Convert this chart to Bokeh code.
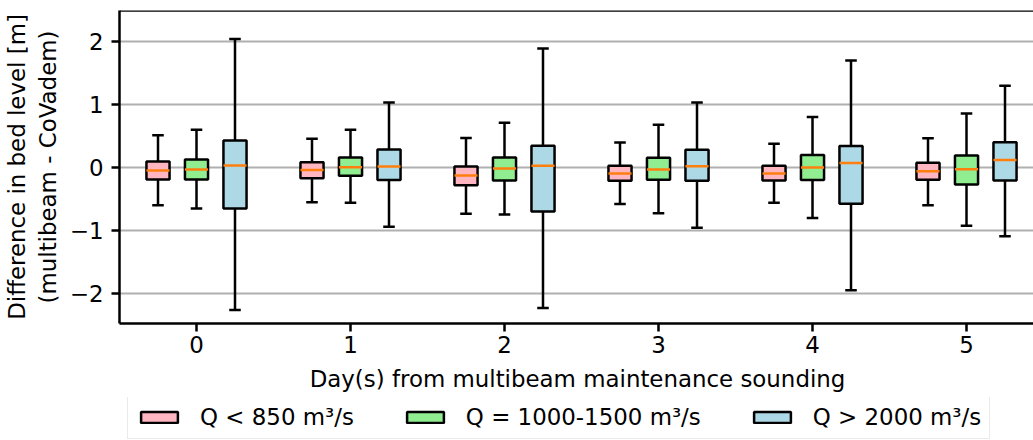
from bokeh.plotting import figure
from bokeh.layouts import column
from bokeh.models import Legend, LegendItem, Span, FixedTicker, ColumnDataSource
from bokeh.embed import file_html
from bokeh.resources import INLINE

# ---------------- data ----------------
days = [0, 1, 2, 3, 4, 5]
tick_labels = ["0", "1", "2", "3", "4", "5"]
group_labels = ["Q < 850 m³/s", "Q = 1000-1500 m³/s", "Q > 2000 m³/s"]
group_colors = ["#ffb6c1", "#90ee90", "#add8e6"]
group_offsets = [-0.25, 0.0, 0.25]

low_whislo = [-0.60, -0.55, -0.735, -0.58, -0.56, -0.60]
low_q1 = [-0.19, -0.17, -0.28, -0.21, -0.206, -0.195]
low_med = [-0.048, -0.04, -0.127, -0.095, -0.095, -0.058]
low_q3 = [0.095, 0.085, 0.016, 0.026, 0.026, 0.074]
low_whishi = [0.51, 0.455, 0.47, 0.397, 0.376, 0.466]

mid_whislo = [-0.65, -0.56, -0.746, -0.725, -0.80, -0.926]
mid_q1 = [-0.19, -0.13, -0.206, -0.196, -0.20, -0.27]
mid_med = [-0.03, 0.005, -0.016, -0.032, 0.0, -0.026]
mid_q3 = [0.127, 0.16, 0.16, 0.153, 0.20, 0.19]
mid_whishi = [0.60, 0.60, 0.71, 0.68, 0.80, 0.857]

high_whislo = [-2.26, -0.94, -2.23, -0.957, -1.95, -1.09]
high_q1 = [-0.65, -0.20, -0.70, -0.21, -0.577, -0.206]
high_med = [0.03, 0.016, 0.026, 0.021, 0.07, 0.12]
high_q3 = [0.43, 0.285, 0.344, 0.28, 0.34, 0.40]
high_whishi = [2.04, 1.03, 1.89, 1.03, 1.70, 1.297]

groups = [
    (low_whislo, low_q1, low_med, low_q3, low_whishi),
    (mid_whislo, mid_q1, mid_med, mid_q3, mid_whishi),
    (high_whislo, high_q1, high_med, high_q3, high_whishi),
]

# ---------------- styling ----------------
FONT = "DejaVu Sans"
FS = "22.9px"
LW = 2.5
BOX_W = 0.15
CAP_W = 0.075

p = figure(
    width=1033,
    frame_width=916, frame_height=313,
    min_border_left=117, min_border_right=0, min_border_top=10, min_border_bottom=74,
    x_range=(-0.5, 5.448), y_range=(-2.476, 2.492),
    output_backend="svg", toolbar_location=None,
)
p.outline_line_color = None
p.background_fill_color = "white"
p.border_fill_color = "white"

sources = []
for (wlo, q1, med, q3, whi), color, off in zip(groups, group_colors, group_offsets):
    xs = [d + off for d in days]
    src = ColumnDataSource(dict(x=xs, wlo=wlo, q1=q1, med=med, q3=q3, whi=whi,
                                xl=[x - BOX_W / 2 for x in xs], xr=[x + BOX_W / 2 for x in xs],
                                cl=[x - CAP_W / 2 for x in xs], cr=[x + CAP_W / 2 for x in xs]))
    sources.append(src)
    # whiskers
    p.segment(x0="x", y0="q3", x1="x", y1="whi", source=src, line_color="black", line_width=LW)
    p.segment(x0="x", y0="q1", x1="x", y1="wlo", source=src, line_color="black", line_width=LW)
    # caps
    p.segment(x0="cl", y0="whi", x1="cr", y1="whi", source=src, line_color="black", line_width=LW)
    p.segment(x0="cl", y0="wlo", x1="cr", y1="wlo", source=src, line_color="black", line_width=LW)
    # boxes
    p.quad(left="xl", right="xr", bottom="q1", top="q3", source=src,
           fill_color=color, line_color="black", line_width=LW)
    # medians
    p.segment(x0="xl", y0="med", x1="xr", y1="med", source=src, line_color="#ff7f0e", line_width=LW)

# top spine
p.add_layout(Span(location=2.492, dimension="width", line_color="black", line_width=LW))

# axes
p.xaxis.ticker = FixedTicker(ticks=days)
p.xaxis.major_label_overrides = {d: t for d, t in zip(days, tick_labels)}
p.yaxis.ticker = FixedTicker(ticks=[-2, -1, 0, 1, 2])
p.yaxis.major_label_overrides = {-2: "\u22122", -1: "\u22121", 0: "0", 1: "1", 2: "2"}
for ax in (p.xaxis[0], p.yaxis[0]):
    ax.axis_line_color = "black"
    ax.axis_line_width = LW
    ax.major_tick_line_color = "black"
    ax.major_tick_line_width = LW
    ax.major_tick_out = 8
    ax.major_tick_in = 0
    ax.minor_tick_line_color = None
    ax.major_label_text_font = FONT
    ax.major_label_text_font_size = FS
    ax.major_label_text_color = "black"
    ax.axis_label_text_font = FONT
    ax.axis_label_text_font_size = FS
    ax.axis_label_text_font_style = "normal"
    ax.axis_label_text_color = "black"

p.xaxis.axis_label = "Day(s) from multibeam maintenance sounding"
p.xaxis.major_label_standoff = 4
p.xaxis.axis_label_standoff = 10
p.yaxis.axis_label = "Difference in bed level [m]\n(multibeam - CoVadem)"
p.yaxis.major_label_standoff = 8
p.yaxis.axis_label_standoff = 6

p.xgrid.grid_line_color = None
p.ygrid.grid_line_color = "#b0b0b0"
p.ygrid.grid_line_width = 1.8

# ---------------- legend strip (boxes drawn out of view, legend only) ----------------
pl = figure(width=1033, height=43, min_border=0, x_range=(-0.5, 5.5), y_range=(10, 11),
            x_axis_location=None, y_axis_location=None,
            output_backend="svg", toolbar_location=None)
pl.grid.grid_line_color = None
pl.outline_line_color = None
items = []
for src, color, lab in zip(sources, group_colors, group_labels):
    r = pl.quad(left="xl", right="xr", bottom="q1", top="q3", source=src, fill_color=color,
                line_color="black", line_width=LW)
    items.append(LegendItem(label=lab, renderers=[r]))

legend = Legend(items=items, orientation="horizontal", location=(8, 1))
legend.label_text_font = FONT
legend.label_text_font_size = FS
legend.label_text_color = "black"
legend.glyph_width = 46
legend.glyph_height = 14
legend.label_standoff = 18
legend.spacing = 48
legend.padding = 8
legend.margin = 0
legend.border_line_color = "#d6d6d6"
legend.border_line_width = 1.5
legend.background_fill_alpha = 1.0
pl.add_layout(legend)

layout = column(p, pl, spacing=0)
open("out.html", "w").write(file_html(layout, INLINE))
